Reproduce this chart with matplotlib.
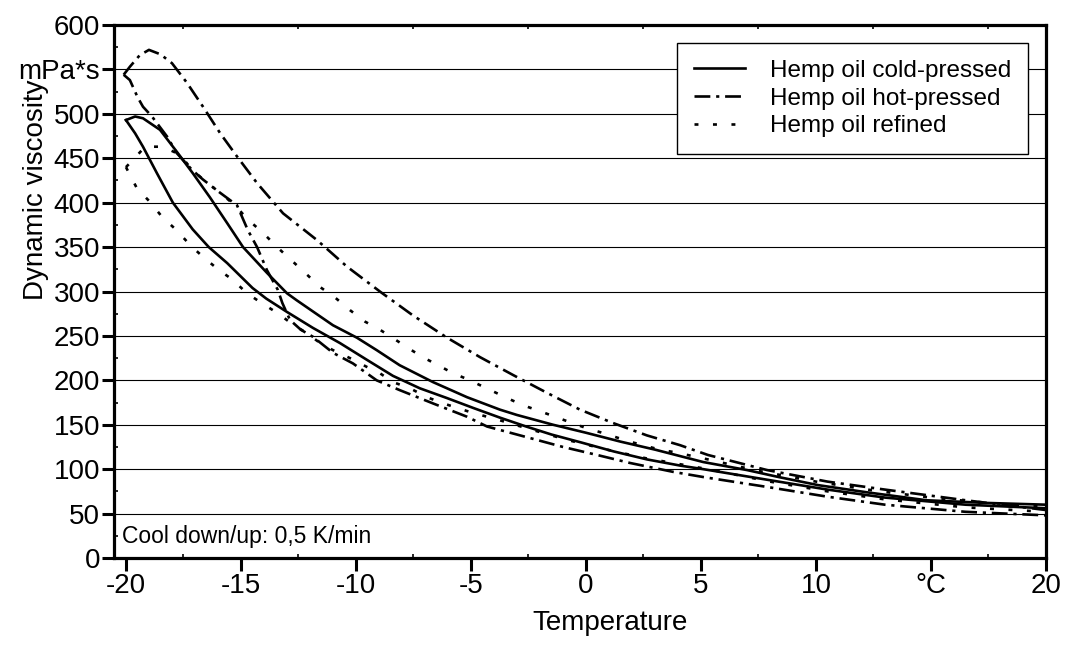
import matplotlib.pyplot as plt

plt.rcParams['font.family'] = ['Liberation Sans', 'DejaVu Sans']

# Dynamic viscosity (mPa*s) vs temperature (°C), cool down/up loops
# cold-pressed
cold_t_a = [-20.0, -19.6, -19.26, -18.52, -17.78, -17.09, -16.35, -15.6, -14.91, -13.87, -13.0,
            -12.57, -11.0, -9.96, -9.1, -8.1, -6.65, -5.17, -3.74, -3.0, -1.43, 0.0, 1.5, 3.0,
            5.1, 7.0, 8.4, 10.1, 12.2, 14.8, 17.4, 20.0]
cold_v_a = [493, 497, 495, 482, 457, 433, 406, 377, 350, 321, 298,
            290, 262, 248, 234, 217, 198, 181, 167, 161, 150, 141, 131, 122,
            108, 99, 91, 82, 74, 65, 62, 60]
cold_t_b = [-20.0, -19.6, -19.26, -18.65, -17.96, -17.1, -16.4, -15.6, -14.5, -13.9, -13.0,
            -11.87, -10.7, -9.52, -8.39, -7.22, -6.04, -4.91, -3.74, -2.6, -1.5, -0.2, 1.2,
            2.65, 4.1, 5.1, 7.9, 10.5, 13.0, 16.5, 20.0]
cold_v_b = [493, 478, 463, 433, 400, 370, 350, 332, 304, 292, 277,
            259, 242, 223, 205, 191, 180, 169, 158, 148, 139, 130, 120,
            111, 104, 100, 88, 77, 68, 60, 56]

# hot-pressed
hot_t_a = [-20.1, -19.83, -19.4, -19.0, -18.5, -18.0, -17.35, -16.65, -15.9, -15.2, -14.3,
           -13.17, -11.7, -10.39, -8.96, -7.52, -6.04, -4.6, -3.17, -1.7, -0.26, 1.17, 2.65,
           4.09, 5.3, 7.87, 10.5, 13.0, 16.5, 20.0]
hot_v_a = [544, 553, 566, 572, 567, 557, 535, 508, 478, 453, 422,
           388, 358, 328, 300, 273, 248, 226, 206, 186, 167, 152, 138,
           127, 116, 99, 86, 77, 65, 54]
hot_t_b = [-20.1, -19.83, -19.5, -19.26, -18.87, -18.2, -17.8, -17.13, -16.65, -15.9, -15.17,
           -14.7, -14.3, -13.87, -13.4, -13.2, -12.87, -12.4, -11.87, -11.0, -10.13, -9.1,
           -8.1, -6.65, -5.17, -4.3, -2.43, -1.0, 0.48, 1.91, 3.78, 5.13, 7.87, 10.5, 13.0,
           16.5, 20.0]
hot_v_b = [544, 538, 519, 508, 497, 474, 456, 437, 426, 411, 397,
           369, 350, 324, 302, 287, 268, 257, 249, 231, 219, 200,
           189, 174, 159, 148, 135, 125, 116, 107, 97, 91, 80, 69, 60,
           52, 48]

# refined
ref_t_a = [-20.0, -19.7, -19.17, -18.4, -17.65, -17.13, -16.5, -15.9, -15.26, -14.7, -14.04,
           -13.43, -12.8, -12.13, -11.56, -10.9, -10.26, -9.6, -8.96, -8.3, -7.65, -7.09,
           -6.43, -5.78, -5.13, -4.48, -3.83, -3.17, -2.52, -1.87, -0.61, 0.04, 0.7, 1.9,
           3.2, 3.87, 5.3, 7.5, 10.0, 12.5, 15.0, 17.5, 20.0]
ref_v_a = [440, 448, 463, 463, 454, 437, 423, 411, 397, 381, 366,
           350, 335, 319, 305, 293, 279, 266, 257, 246, 235, 226,
           217, 208, 201, 193, 185, 177, 170, 164, 152, 146, 141, 131,
           122, 119, 111, 98, 86, 76, 68, 62, 58]
ref_t_b = [-20.0, -19.52, -18.96, -18.43, -17.8, -17.2, -16.65, -16.0, -15.35, -14.74, -14.1,
           -13.43, -12.8, -12.13, -11.56, -11.0, -10.26, -9.52, -8.96, -8.39, -7.65, -6.91,
           -6.2, -5.6, -5.0, -4.3, -3.74, -2.57, -0.83, 0.91, 2.65, 3.78, 5.5, 8.0, 10.5,
           13.0, 16.5, 20.0]
ref_v_b = [440, 416, 401, 384, 369, 352, 339, 325, 313, 298, 287,
           276, 264, 253, 242, 234, 225, 215, 208, 198, 191, 181,
           174, 169, 164, 159, 155, 146, 133, 122, 112, 107, 99, 86, 75,
           66, 57, 52]

x_ticks = [-20, -15, -10, -5, 0, 5, 10, 15, 20]
x_labels = ['-20', '-15', '-10', '-5', '0', '5', '10', '°C', '20']
y_ticks = [0, 50, 100, 150, 200, 250, 300, 350, 400, 450, 500, 550, 600]
y_labels = ['0', '50', '100', '150', '200', '250', '300', '350', '400', '450', '500', 'mPa*s', '600']

fig = plt.figure(figsize=(10.66, 6.48), dpi=100)
ax = fig.add_axes([114 / 1066, 90 / 648, 932 / 1066, 533 / 648])

lw = 1.9
dashdot = (0, (6, 2.2, 1.2, 2.2))
dotted = (0, (1.5, 5.5))

ax.plot(cold_t_a, cold_v_a, color='black', lw=lw, label='Hemp oil cold-pressed')
ax.plot(cold_t_b, cold_v_b, color='black', lw=lw)
ax.plot(hot_t_a, hot_v_a, color='black', lw=lw, linestyle=dashdot, label='Hemp oil hot-pressed')
ax.plot(hot_t_b, hot_v_b, color='black', lw=lw, linestyle=dashdot)
ax.plot(ref_t_a, ref_v_a, color='black', lw=lw, linestyle=dotted, label='Hemp oil refined')
ax.plot(ref_t_b, ref_v_b, color='black', lw=lw, linestyle=dotted)

ax.set_xlim(-20.52, 20)
ax.set_ylim(0, 600)
ax.set_xticks(x_ticks)
ax.set_xticklabels(x_labels)
ax.set_yticks(y_ticks)
ax.set_yticklabels(y_labels)
ax.set_xticks([x + 2.5 for x in x_ticks[:-1]], minor=True)
ax.set_yticks([y + 25 for y in y_ticks[:-1]], minor=True)

ax.grid(axis='y', color='black', lw=0.8)
ax.set_axisbelow(True)
for s in ax.spines.values():
    s.set_linewidth(2.3)

ax.tick_params(which='major', direction='out', length=9, width=2.2, labelsize=20, pad=2)
ax.tick_params(axis='y', which='major', pad=1)
ax.tick_params(which='minor', direction='in', length=3, width=1.2, top=True, right=False)

ax.set_xlabel('Temperature', fontsize=20)
ax.xaxis.set_label_coords(0.532, -0.098)
ax.set_ylabel('Dynamic viscosity', fontsize=20)
ax.yaxis.set_label_coords(-0.084, 0.69)
ax.yaxis.label.set(va='center', ha='center')

ax.text(0.009, 0.018, 'Cool down/up: 0,5 K/min', transform=ax.transAxes, fontsize=16.5,
        ha='left', va='bottom')

leg = ax.legend(loc='upper right', bbox_to_anchor=(0.9807, 0.966), borderaxespad=0,
                fontsize=17.5, fancybox=False, edgecolor='black', framealpha=1,
                handlelength=2.1, handletextpad=1.05, labelspacing=0.24,
                borderpad=0.68)
leg.get_frame().set_linewidth(1.0)

fig.savefig('out.png', dpi=100)
